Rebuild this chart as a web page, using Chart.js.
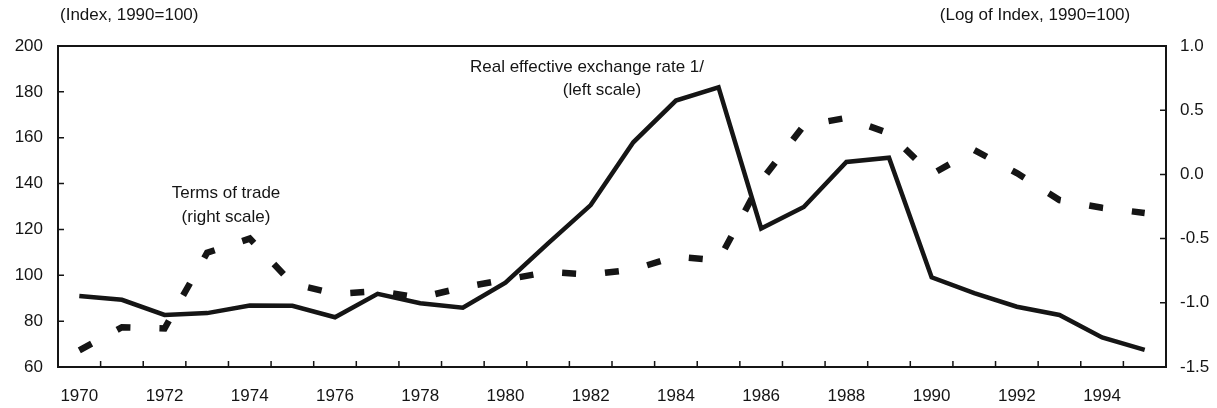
<!DOCTYPE html>
<html lang="en">
<head>
  <meta charset="UTF-8">
  <title>Real effective exchange rate and terms of trade</title>
  <script src="https://cdn.jsdelivr.net/npm/chart.js@4.4.0/dist/chart.umd.min.js"></script>
  <style>
    html, body { margin: 0; padding: 0; background: #fff; }
    #wrap { position: relative; width: 1217px; height: 408px; }
  </style>
</head>
<body>
  <div id="wrap"><canvas id="chart"></canvas></div>

  <script>
    // data
    const years = ['1970', '1971', '1972', '1973', '1974', '1975', '1976', '1977', '1978', '1979',
      '1980', '1981', '1982', '1983', '1984', '1985', '1986', '1987', '1988', '1989',
      '1990', '1991', '1992', '1993', '1994', '1995'];

    // Real effective exchange rate, index 1990=100 (left scale)
    const reer = [91, 89.3, 82.7, 83.5, 86.8, 86.7, 81.7, 91.9, 87.8, 85.9,
      96.8, 113.9, 130.6, 158, 176.2, 182, 120.4, 129.8, 149.4, 151.3,
      99.1, 92.2, 86.3, 82.7, 72.9, 67.5];

    // Terms of trade, log of index 1990=100 (right scale)
    const tot = [-1.37, -1.19, -1.2, -0.61, -0.5, -0.85, -0.93, -0.91, -0.96, -0.88,
      -0.82, -0.76, -0.78, -0.74, -0.64, -0.67, -0.05, 0.38, 0.44, 0.32,
      0.0, 0.19, 0.01, -0.2, -0.26, -0.3];

    const FONT = '"Liberation Sans", Arial, sans-serif';
    const INK = '#151515';

    // box, inward tick marks and the text notes
    const frame = {
      id: 'frame',
      afterDraw(chart) {
        const { ctx, chartArea: a, scales } = chart;
        const x = scales.x, y = scales.y, y1 = scales.y1;
        ctx.save();
        ctx.strokeStyle = INK;
        ctx.lineWidth = 2;
        ctx.strokeRect(a.left, a.top, a.right - a.left, a.bottom - a.top);

        ctx.lineWidth = 1.5;
        ctx.beginPath();
        y.ticks.forEach(t => {
          const p = y.getPixelForValue(t.value);
          ctx.moveTo(a.left, p); ctx.lineTo(a.left + 6, p);
        });
        y1.ticks.forEach(t => {
          const p = y1.getPixelForValue(t.value);
          ctx.moveTo(a.right, p); ctx.lineTo(a.right - 6, p);
        });
        for (let i = 1; i < years.length; i++) {
          const p = (x.getPixelForValue(i - 1) + x.getPixelForValue(i)) / 2;
          ctx.moveTo(p, a.bottom); ctx.lineTo(p, a.bottom - 6);
        }
        ctx.stroke();

        ctx.fillStyle = INK;
        ctx.font = '17px ' + FONT;
        ctx.textBaseline = 'middle';
        ctx.textAlign = 'left';
        ctx.fillText('(Index, 1990=100)', 60, 15);
        ctx.textAlign = 'center';
        ctx.fillText('(Log of Index, 1990=100)', 1035, 15);
        ctx.fillText('Real effective exchange rate 1/', 587, 67);
        ctx.fillText('(left scale)', 602, 90);
        ctx.fillText('Terms of trade', 226, 193);
        ctx.fillText('(right scale)', 226, 217);
        ctx.restore();
      }
    };

    new Chart(document.getElementById('chart'), {
      type: 'line',
      data: {
        labels: years,
        datasets: [
          {
            label: 'Real effective exchange rate',
            data: reer,
            yAxisID: 'y',
            borderColor: INK,
            borderWidth: 4.5,
            pointRadius: 0,
            tension: 0
          },
          {
            label: 'Terms of trade',
            data: tot,
            yAxisID: 'y1',
            borderColor: INK,
            borderWidth: 6.5,
            borderDash: [14, 29],
            borderCapStyle: 'butt',
            pointRadius: 0,
            tension: 0
          }
        ]
      },
      options: {
        responsive: true,
        maintainAspectRatio: false,
        animation: false,
        layout: { padding: { top: 46, left: 0, right: 0, bottom: 0 } },
        plugins: {
          legend: { display: false },
          tooltip: { enabled: false }
        },
        scales: {
          x: {
            type: 'category',
            offset: true,
            grid: { display: false, drawTicks: false },
            border: { display: false },
            ticks: {
              autoSkip: false,
              maxRotation: 0,
              padding: 19,
              color: INK,
              font: { family: FONT, size: 17 },
              callback: (v, i) => (i % 2 === 0 ? years[i] : '')
            },
            afterFit: s => { s.height = 41; }
          },
          y: {
            position: 'left',
            min: 60,
            max: 200,
            grid: { display: false, drawTicks: false },
            border: { display: false },
            ticks: {
              stepSize: 20,
              padding: 15,
              color: INK,
              font: { family: FONT, size: 17 }
            },
            afterFit: s => { s.width = 58; }
          },
          y1: {
            position: 'right',
            min: -1.5,
            max: 1.0,
            grid: { display: false, drawTicks: false },
            border: { display: false },
            ticks: {
              stepSize: 0.5,
              padding: 14,
              color: INK,
              font: { family: FONT, size: 17 },
              callback: v => v.toFixed(1)
            },
            afterFit: s => { s.width = 51; }
          }
        }
      },
      plugins: [frame]
    });
  </script>
</body>
</html>
